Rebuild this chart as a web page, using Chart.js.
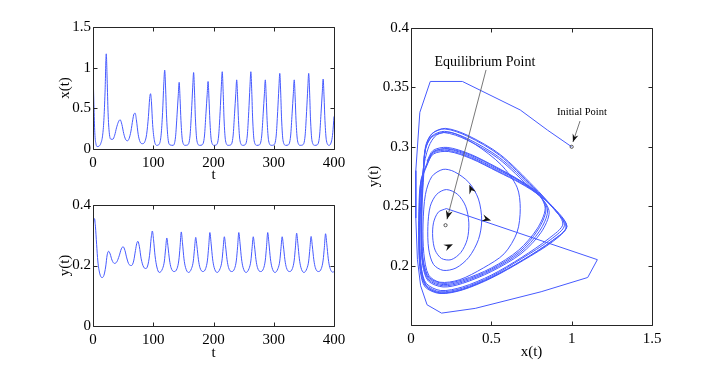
<!DOCTYPE html>
<html>
<head>
<meta charset="utf-8">
<title>x(t), y(t) and phase portrait</title>
<script src="https://cdn.jsdelivr.net/npm/chart.js"></script>
<style>
  body { margin: 0; background: #fff; }
  #wrap { position: relative; width: 720px; height: 374px; }
  canvas { position: absolute; }
</style>
</head>
<body>
<div id="wrap">
  <canvas id="cx" width="360" height="185" style="left:0;top:0"></canvas>
  <canvas id="cy" width="360" height="189" style="left:0;top:185px"></canvas>
  <canvas id="cp" width="360" height="374" style="left:360px;top:0"></canvas>
</div>
<script>
// x(t), [t, x]
var xSeries = [
  [0,1.0],[1.5,0.55],[3,0.2],[5,0.06],[7,0.03],[10,0.035],[13,0.07],[16,0.17],[18,0.35],[20,0.7],
  [22,1.17],[23.5,0.85],[25,0.45],[27,0.2],[30,0.12],[33,0.12],[36,0.17],[39,0.26],[42,0.33],[45,0.36],
  [48,0.3],[51,0.19],[54,0.12],[57,0.1],[60,0.13],[63,0.22],[66,0.36],[68,0.43],[70,0.44],[72,0.36],
  [75,0.18],[78,0.09],[82,0.065],[86,0.09],[89,0.18],[92,0.4],[94,0.62],[95.5,0.68],[97,0.58],[99,0.3],
  [102,0.1],[106,0.045],[110,0.06],[113,0.17],[115.5,0.45],[117.5,0.8],[119,0.97],[120.5,0.75],[122,0.42],
  [124.5,0.13],[128,0.05],[133,0.045],
  [137,0.15],[139.5,0.42],[141.5,0.66],[143,0.82],[144.5,0.62],[146,0.35],[148.5,0.1],[153,0.045],
  [157,0.05],[161,0.16],[163.5,0.46],[165.5,0.76],[167,0.94],[168.5,0.7],[170,0.37],[172.5,0.1],[177,0.045],
  [181,0.05],[185,0.16],[187.5,0.44],[189.5,0.67],[191,0.83],[192.5,0.62],[194,0.35],[196.5,0.1],[201,0.045],
  [204.5,0.05],[208.5,0.16],[211,0.46],[213,0.77],[214.5,0.95],[216,0.71],[217.5,0.37],[220,0.1],[224.5,0.045],
  [228.5,0.05],[232.5,0.16],[235,0.44],[237,0.68],[238.5,0.85],[240,0.64],[241.5,0.35],[244,0.1],[248.5,0.045],
  [252,0.05],[256,0.16],[258.5,0.46],[260.5,0.77],[262,0.95],[263.5,0.71],[265,0.37],[267.5,0.1],[272,0.045],
  [276,0.05],[280,0.16],[282.5,0.44],[284.5,0.68],[286,0.85],[287.5,0.64],[289,0.35],[291.5,0.1],[296,0.045],
  [300,0.05],[304,0.16],[306.5,0.46],[308.5,0.75],[310,0.93],[311.5,0.7],[313,0.37],[315.5,0.1],[320,0.045],
  [324,0.05],[328,0.16],[330.5,0.44],[332.5,0.68],[334,0.85],[335.5,0.64],[337,0.35],[339.5,0.1],[344,0.045],
  [348,0.05],[352,0.16],[354.5,0.46],[356.5,0.75],[358,0.93],[359.5,0.7],[361,0.37],[363.5,0.1],[368,0.045],
  [372,0.05],[376,0.16],[378.5,0.44],[380.5,0.69],[382,0.86],[383.5,0.64],[385,0.35],[387.5,0.1],[392,0.045],
  [396,0.1],[398,0.2],[400,0.4]
];

// y(t), [t, y]
var ySeries = [
  [0,0.3],[1,0.34],[2.5,0.355],[4,0.33],[6,0.27],[8,0.215],[11,0.175],[15,0.16],[18,0.167],[21,0.195],
  [23.5,0.235],[26,0.247],[28.5,0.238],[31.5,0.218],[35.5,0.207],[39.5,0.212],[43.5,0.232],[47,0.255],
  [50,0.262],[53,0.25],[56,0.225],[60,0.203],[64,0.2],[67.5,0.215],[70.5,0.25],[72.5,0.272],[74.5,0.28],
  [77,0.262],[80,0.222],[84,0.195],[88,0.19],[91.5,0.205],[94.5,0.245],[96.5,0.29],[98.5,0.314],
  [100.5,0.285],[103,0.232],[106,0.195],[110,0.177],
  [115.5,0.19],[118.5,0.215],[120.5,0.255],[122.5,0.291],[124.5,0.262],[127,0.218],[129.5,0.193],[134.5,0.18],
  [139.5,0.19],[142.5,0.218],[144.5,0.262],[146.5,0.311],[148.5,0.275],[151,0.222],[153.5,0.194],[158.5,0.177],
  [163.5,0.19],[166.5,0.215],[168.5,0.256],[170.5,0.293],[172.5,0.264],[175,0.219],[177.5,0.193],[182.5,0.18],
  [187,0.19],[190,0.218],[192,0.262],[194,0.309],[196,0.274],[198.5,0.222],[201,0.194],[206,0.177],
  [211,0.19],[214,0.215],[216,0.257],[218,0.295],[220,0.265],[222.5,0.219],[225,0.193],[230,0.18],
  [235,0.19],[238,0.218],[240,0.262],[242,0.309],[244,0.274],[246.5,0.222],[249,0.194],[254,0.177],
  [259,0.19],[262,0.215],[264,0.257],[266,0.295],[268,0.265],[270.5,0.219],[273,0.193],[278,0.18],
  [283,0.19],[286,0.218],[288,0.262],[290,0.309],[292,0.274],[294.5,0.222],[297,0.194],[302,0.177],
  [307,0.19],[310,0.215],[312,0.257],[314,0.295],[316,0.265],[318.5,0.219],[321,0.193],[326,0.18],
  [331,0.19],[334,0.218],[336,0.261],[338,0.307],[340,0.273],[342.5,0.222],[345,0.194],[350,0.177],
  [355,0.19],[358,0.215],[360,0.257],[362,0.296],[364,0.265],[366.5,0.219],[369,0.193],[374,0.18],
  [379,0.19],[382,0.218],[384,0.26],[386,0.305],[388,0.272],[390.5,0.222],[393,0.194],[398,0.178],[400,0.18]
];

// phase portrait [x, y]: first coarse path from the initial point
var phaseStart = [
  [1.0,0.3],[0.85,0.314],[0.68,0.331],[0.32,0.355],[0.12,0.355],[0.055,0.329],[0.03,0.28],[0.03,0.24],
  [0.04,0.205],[0.06,0.183],[0.1,0.167],[0.19,0.16],[0.4,0.164],[0.81,0.178],[1.1,0.19],[1.16,0.205],[0.22,0.248]
];
// growing loops round the equilibrium
var phaseSpiral = [
  [0.22,0.248],[0.17,0.245],[0.14,0.236],[0.135,0.224],[0.15,0.213],[0.19,0.206],[0.25,0.205],[0.31,0.211],
  [0.35,0.222],[0.36,0.236],[0.34,0.25],[0.29,0.26],[0.22,0.264],
  [0.16,0.26],[0.12,0.25],[0.105,0.233],[0.11,0.214],[0.14,0.201],[0.2,0.196],[0.28,0.198],[0.36,0.207],
  [0.42,0.222],[0.44,0.238],[0.42,0.256],[0.36,0.27],[0.27,0.279],[0.2,0.281],
  [0.13,0.275],[0.09,0.26],[0.075,0.235],[0.08,0.21],[0.11,0.192],[0.18,0.186],[0.3,0.188],[0.45,0.198],
  [0.58,0.21],[0.66,0.228],[0.68,0.248],[0.66,0.266],[0.56,0.285],[0.4,0.302],[0.25,0.312],[0.16,0.31],[0.11,0.3],
  [0.075,0.28],[0.06,0.25],[0.055,0.22],[0.065,0.197],[0.1,0.182],[0.19,0.177],[0.32,0.18],[0.5,0.19],
  [0.7,0.205],[0.88,0.221],[0.97,0.233],[0.88,0.25],[0.79,0.26],[0.68,0.271],[0.535,0.281],[0.37,0.292],
  [0.23,0.298],[0.14,0.296],[0.1,0.287]
];
// the two alternating loops of the limit cycle
var phaseCycle = [
  [0.06,0.27],[0.05,0.24],[0.05,0.215],[0.06,0.196],[0.09,0.183],[0.18,0.177],[0.32,0.18],[0.5,0.19],[0.7,0.205],
  [0.88,0.221],[0.97,0.233],[0.88,0.249],[0.76,0.266],[0.55,0.293],[0.35,0.309],[0.21,0.315],[0.13,0.311],[0.09,0.3],
  [0.075,0.275],[0.065,0.25],[0.065,0.22],[0.075,0.201],[0.11,0.188],[0.2,0.183],[0.32,0.186],[0.5,0.196],[0.68,0.211],
  [0.8,0.229],[0.85,0.246],[0.8,0.259],[0.68,0.27],[0.535,0.28],[0.37,0.291],[0.23,0.297],[0.14,0.295],[0.1,0.285],
  [0.062,0.272],[0.052,0.242],[0.052,0.216],[0.062,0.197],[0.092,0.184],[0.18,0.178],[0.32,0.181],[0.5,0.191],[0.69,0.206],
  [0.87,0.222],[0.955,0.234],[0.875,0.25],[0.76,0.265],[0.55,0.291],[0.35,0.307],[0.21,0.313],[0.13,0.309],[0.09,0.298],
  [0.077,0.277],[0.067,0.252],[0.067,0.222],[0.077,0.202],[0.112,0.189],[0.2,0.184],[0.32,0.187],[0.5,0.197],[0.675,0.212],
  [0.79,0.23],[0.84,0.247],[0.795,0.26],[0.68,0.271],[0.535,0.282],[0.37,0.293],[0.23,0.2985],[0.142,0.296],[0.102,0.287],
  [0.058,0.268],[0.048,0.238],[0.049,0.213],[0.058,0.195],[0.088,0.182],[0.18,0.1765],[0.32,0.1795],[0.5,0.1895],[0.7,0.2045],
  [0.885,0.2205],[0.965,0.2325],[0.885,0.2485],[0.765,0.2665],[0.555,0.2935],[0.355,0.3095],[0.215,0.3155],[0.135,0.3115],[0.092,0.3],
  [0.073,0.273],[0.063,0.248],[0.063,0.219],[0.073,0.2],[0.108,0.187],[0.2,0.182],[0.32,0.185],[0.5,0.195],[0.685,0.21],
  [0.81,0.228],[0.86,0.245],[0.805,0.258],[0.685,0.269],[0.54,0.279],[0.375,0.29],[0.235,0.296],[0.14,0.294],[0.098,0.284],
  [0.064,0.27],[0.054,0.243],[0.054,0.218],[0.064,0.198],[0.095,0.185],[0.185,0.179],[0.32,0.182],[0.5,0.192],[0.69,0.207],
  [0.86,0.223],[0.945,0.235],[0.87,0.251],[0.755,0.264],[0.545,0.29],[0.345,0.306],[0.205,0.312],[0.128,0.308],[0.088,0.297],
  [0.079,0.276],[0.069,0.251],[0.068,0.221],[0.078,0.203],[0.113,0.19],[0.2,0.185],[0.32,0.188],[0.5,0.198],[0.67,0.213],
  [0.785,0.231],[0.835,0.248],[0.79,0.261],[0.675,0.272],[0.53,0.283],[0.365,0.294],[0.225,0.2995],[0.138,0.297],[0.1,0.288]
];

// marked points and annotation text in the phase panel
var equilibrium = [0.215, 0.234];
var initialPoint = [1.0, 0.3];
var eqLabel = 'Equilibrium Point';
var initLabel = 'Initial Point';

var serif = "'Liberation Serif', 'Times New Roman', serif";
var lineColor = 'rgb(70,90,255)';

function fmt(v) { return String(Math.round(v * 100) / 100); }

function pts(list) { return list.map(function (p) { return {x: p[0], y: p[1]}; }); }

// MATLAB style box with inward ticks on all four sides
var boxPlugin = {
  id: 'box',
  afterDraw: function (chart) {
    var ctx = chart.ctx, a = chart.chartArea, sx = chart.scales.x, sy = chart.scales.y;
    var L = Math.round(a.left) + 0.5, R = Math.round(a.right) + 0.5;
    var T = Math.round(a.top) + 0.5, B = Math.round(a.bottom) + 0.5;
    ctx.save();
    ctx.strokeStyle = '#262626';
    ctx.lineWidth = 1;
    ctx.beginPath();
    ctx.rect(L, T, R - L, B - T);
    sx.ticks.forEach(function (t) {
      var p = Math.round(sx.getPixelForValue(t.value)) + 0.5;
      ctx.moveTo(p, B); ctx.lineTo(p, B - 4);
      ctx.moveTo(p, T); ctx.lineTo(p, T + 4);
    });
    sy.ticks.forEach(function (t) {
      var p = Math.round(sy.getPixelForValue(t.value)) + 0.5;
      ctx.moveTo(L, p); ctx.lineTo(L + 4, p);
      ctx.moveTo(R, p); ctx.lineTo(R - 4, p);
    });
    ctx.stroke();
    ctx.restore();
  }
};

function head(ctx, tail, tip, len, wid) {
  var dx = tip[0] - tail[0], dy = tip[1] - tail[1], d = Math.hypot(dx, dy);
  dx /= d; dy /= d;
  var bx = tip[0] - dx * len, by = tip[1] - dy * len;
  ctx.beginPath();
  ctx.moveTo(tip[0], tip[1]);
  ctx.lineTo(bx - dy * wid, by + dx * wid);
  ctx.lineTo(tip[0] - dx * len * 0.65, tip[1] - dy * len * 0.65);
  ctx.lineTo(bx + dy * wid, by - dx * wid);
  ctx.closePath();
  ctx.fill();
}

var notePlugin = {
  id: 'notes',
  afterDraw: function (chart) {
    var ctx = chart.ctx, sx = chart.scales.x, sy = chart.scales.y;
    function P(p) { return [sx.getPixelForValue(p[0]), sy.getPixelForValue(p[1])]; }
    ctx.save();
    ctx.fillStyle = '#000';
    ctx.textAlign = 'center';
    ctx.textBaseline = 'middle';
    ctx.font = '14px ' + serif;
    var e = P([0.46, 0.3714]);
    ctx.fillText(eqLabel, e[0], e[1]);
    ctx.font = '10.5px ' + serif;
    var ip = P([1.064, 0.3293]);
    ctx.fillText(initLabel, ip[0], ip[1]);

    // pointer lines
    ctx.strokeStyle = '#555';
    ctx.lineWidth = 0.8;
    var a1 = P([0.467, 0.3647]), a2 = P([0.224, 0.239]);
    ctx.beginPath(); ctx.moveTo(a1[0], a1[1]); ctx.lineTo(a2[0], a2[1]); ctx.stroke();
    ctx.fillStyle = '#111';
    head(ctx, a1, a2, 9, 3.5);
    var b1 = P([1.052, 0.3217]), b2 = P([1.008, 0.304]);
    ctx.beginPath(); ctx.moveTo(b1[0], b1[1]); ctx.lineTo(b2[0], b2[1]); ctx.stroke();
    head(ctx, b1, b2, 8, 3);

    // direction heads on the trajectory
    head(ctx, P([0.39, 0.259]), P([0.363, 0.268]), 9, 3.5);
    head(ctx, P([0.45, 0.24]), P([0.498, 0.238]), 9, 3.5);
    head(ctx, P([0.205, 0.2146]), P([0.261, 0.218]), 9, 3.5);

    // small circles at the two marked points
    ctx.strokeStyle = '#333';
    ctx.lineWidth = 0.8;
    [equilibrium, initialPoint].forEach(function (q) {
      var c = P(q);
      ctx.beginPath(); ctx.arc(c[0], c[1], 1.6, 0, Math.PI * 2); ctx.stroke();
    });
    ctx.restore();
  }
};

function makeChart(id, datasets, o) {
  var font = {family: serif, size: 15};
  return new Chart(document.getElementById(id), {
    type: 'scatter',
    data: {datasets: datasets},
    options: {
      responsive: false,
      animation: false,
      devicePixelRatio: 1,
      layout: {padding: o.padding},
      plugins: {legend: {display: false}, tooltip: {enabled: false}},
      scales: {
        x: {
          type: 'linear', min: o.xMin, max: o.xMax,
          afterFit: function (s) { s.height = o.xH; },
          grid: {display: false, drawTicks: false},
          border: {display: false},
          ticks: {stepSize: o.xStep, padding: 5, color: '#000', font: font, maxRotation: 0, autoSkip: false, callback: fmt},
          title: {display: true, text: o.xTitle, color: '#000', font: font, padding: {top: 0, bottom: o.xTitlePad}}
        },
        y: {
          type: 'linear', min: o.yMin, max: o.yMax,
          afterFit: function (s) { s.width = o.yW; },
          grid: {display: false, drawTicks: false},
          border: {display: false},
          ticks: {stepSize: o.yStep, padding: 2, color: '#000', font: font, autoSkip: false, callback: o.yFmt || fmt},
          title: {display: true, text: o.yTitle, color: '#000', font: font, padding: {top: o.yTitlePad, bottom: 0}}
        }
      }
    },
    plugins: [boxPlugin].concat(o.extra || [])
  });
}

function timeLine(list) {
  return {data: pts(list), showLine: true, borderColor: lineColor, borderWidth: 1,
          pointRadius: 0, cubicInterpolationMode: 'monotone'};
}
function phaseLine(list, tension) {
  return {data: pts(list), showLine: true, borderColor: lineColor, borderWidth: 1,
          pointRadius: 0, tension: tension};
}

makeChart('cx', [timeLine(xSeries)], {
  padding: {top: 27, right: 26, left: 0, bottom: 0},
  xMin: 0, xMax: 400, xStep: 100, xH: 36, xTitle: 't', xTitlePad: 1,
  yMin: 0, yMax: 1.5, yStep: 0.5, yW: 93, yTitle: 'x(t)', yTitlePad: 56
});

makeChart('cy', [timeLine(ySeries)], {
  padding: {top: 20, right: 26, left: 0, bottom: 0},
  xMin: 0, xMax: 400, xStep: 100, xH: 48, xTitle: 't', xTitlePad: 12,
  yMin: 0, yMax: 0.4, yStep: 0.2, yW: 93, yTitle: 'y(t)', yTitlePad: 56
});

makeChart('cp', [phaseLine(phaseStart, 0), phaseLine(phaseSpiral, 0.3), phaseLine(phaseCycle, 0.3)], {
  padding: {top: 28, right: 68, left: 0, bottom: 0},
  xMin: 0, xMax: 1.5, xStep: 0.5, xH: 49, xTitle: 'x(t)', xTitlePad: 13,
  yMin: 0.15, yMax: 0.4, yStep: 0.05, yW: 51, yTitle: 'y(t)', yTitlePad: 5,
  yFmt: function (v) { return Math.abs(v - 0.15) < 1e-6 ? '' : fmt(v); },
  extra: [notePlugin]
});
</script>
</body>
</html>
